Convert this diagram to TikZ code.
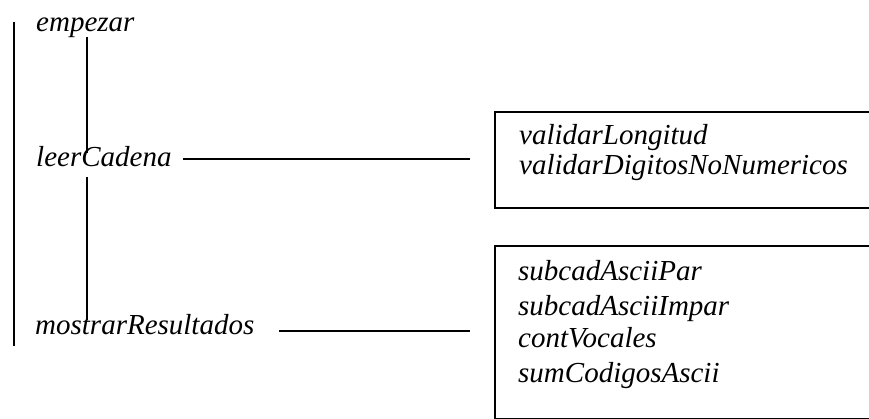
\documentclass[tikz,border=0pt]{standalone}
\usepackage{fontspec}
\setmainfont{Liberation Serif}
\begin{document}
\begin{tikzpicture}[x=1pt,y=-1pt,
  lbl/.style={anchor=base west,inner sep=0pt,font=\fontsize{29}{33}\selectfont\itshape},
  ln/.style={line width=1.3pt},
  bx/.style={draw,line width=1.8pt,anchor=north west,inner sep=0pt}]
\useasboundingbox (0,0) rectangle (869,419);
% vertical lines
\coordinate (l1a) at (14,22); \coordinate (l1b) at (14,346);
\draw[ln] (l1a) -- (l1b);
\coordinate (l2a) at (87,37); \coordinate (l2b) at (87,153);
\coordinate (l2c) at (87,177); \coordinate (l2d) at (87,320);
\draw[ln] (l2a) -- (l2b);
\draw[ln] (l2c) -- (l2d);
% left labels
\node[lbl] (emp) at (36,32) {empezar};
\node[lbl] (leer) at (36,167) {leerCadena};
\node[lbl] (most) at (35,334) {mostrarResultados};
% boxes
\node[bx,minimum width=420pt,minimum height=96pt] (box1) at (494,111) {};
\node[bx,minimum width=420pt,minimum height=173pt] (box2) at (494,245) {};
% connectors
\coordinate (c1a) at (183,159); \coordinate (c1b) at (470,159);
\coordinate (c2a) at (279,331); \coordinate (c2b) at (470,331);
\draw[ln] (c1a) -- (c1b);
\draw[ln] (c2a) -- (c2b);
% box texts
\node[lbl] (t1) at (519,145) {validarLongitud};
\node[lbl] (t2) at (519,175) {validarDigitosNoNumericos};
\node[lbl] (t3) at (518,281) {subcadAsciiPar};
\node[lbl] (t4) at (518,315) {subcadAsciiImpar};
\node[lbl] (t5) at (518,347) {contVocales};
\node[lbl] (t6) at (518,382) {sumCodigosAscii};
\end{tikzpicture}
\end{document}
